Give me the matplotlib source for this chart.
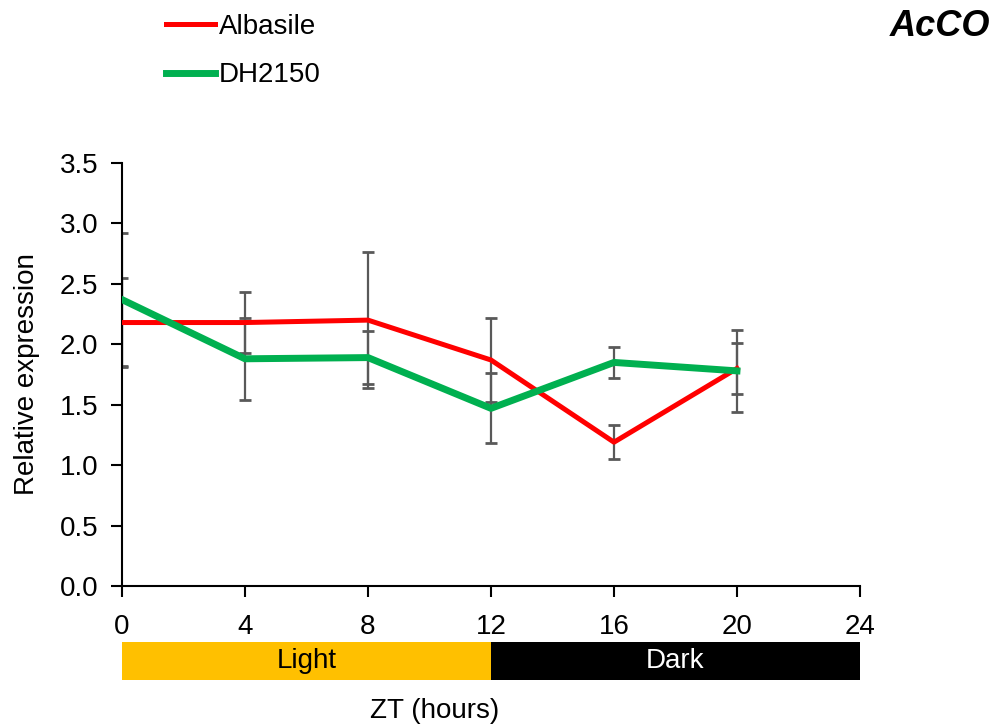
#Relative expression of AcCO over a 24 h light/dark cycle
import matplotlib.pyplot as plt
import numpy as np

plt.rcParams['font.family'] = ['Liberation Sans', 'DejaVu Sans']

#Data
zt = [0, 4, 8, 12, 16, 20]
albasile = [2.18, 2.18, 2.20, 1.87, 1.19, 1.80]
albasile_err = [0.37, 0.25, 0.56, 0.35, 0.14, 0.21]
dh2150 = [2.37, 1.88, 1.89, 1.47, 1.85, 1.78]
dh2150_err = [0.55, 0.34, 0.22, 0.29, 0.13, 0.34]

x_ticks = [0, 4, 8, 12, 16, 20, 24]
y_ticks = [0.0, 0.5, 1.0, 1.5, 2.0, 2.5, 3.0, 3.5]
phase_labels = ['Light', 'Dark']
phase_start = [0, 12]
phase_len = [12, 12]

font_size = 20
err_color = '#595959'

fig = plt.figure(figsize=(9.95, 7.26), dpi=100)
ax = fig.add_axes([0.1226, 0.1928, 0.7417, 0.5827])

alb_plt, = ax.plot(zt, albasile, '-', color='#FF0000', linewidth=3.6, zorder=3)
dh_plt, = ax.plot(zt, dh2150, '-', color='#00B050', linewidth=5, zorder=3)
ax.errorbar(zt, albasile, yerr=albasile_err, fmt='none', ecolor=err_color, elinewidth=1.6, capsize=4, capthick=2, zorder=2)
ax.errorbar(zt, dh2150, yerr=dh2150_err, fmt='none', ecolor=err_color, elinewidth=1.6, capsize=4, capthick=2, zorder=2)

ax.set_xlim(0, 24)
ax.set_ylim(0, 3.5)
ax.set_xticks(x_ticks)
ax.set_yticks(y_ticks)
ax.set_yticklabels(['%.1f' % v for v in y_ticks])
ax.spines['top'].set_visible(False)
ax.spines['right'].set_visible(False)
ax.spines['left'].set_linewidth(1.5)
ax.spines['bottom'].set_linewidth(1.5)
ax.tick_params(axis='both', direction='out', length=8, width=1.5, labelsize=font_size)
ax.tick_params(axis='y', pad=9)
ax.tick_params(axis='x', pad=12)
ax.set_ylabel('Relative expression', fontsize=font_size, labelpad=14)

#Light / dark bar under the axis
bar_ax = fig.add_axes([0.1226, 0.0634, 0.7417, 0.0523])
bar_ax.barh([0, 0], phase_len, left=phase_start, height=1, color=['#FFC000', 'black'])
for i in range(len(phase_labels)):
	bar_ax.text(phase_start[i] + phase_len[i] / 2., 0, phase_labels[i], ha='center', va='center',
		fontsize=font_size, color='black' if i == 0 else 'white')
bar_ax.set_xlim(0, 24)
bar_ax.set_ylim(-0.5, 0.5)
bar_ax.axis('off')

fig.text(0.4372, 0.02, 'ZT (hours)', ha='center', va='center', fontsize=font_size)
fig.text(0.995, 0.963, 'AcCO', ha='right', va='center', fontsize=26, fontweight='bold', fontstyle='italic')

fig.legend([alb_plt, dh_plt], ['Albasile', 'DH2150'], loc='upper left', bbox_to_anchor=(0.142, 1.015),
	frameon=False, fontsize=font_size, handlelength=1.75, handletextpad=0.15, labelspacing=0.8)

plt.savefig('out.png', dpi=100)
